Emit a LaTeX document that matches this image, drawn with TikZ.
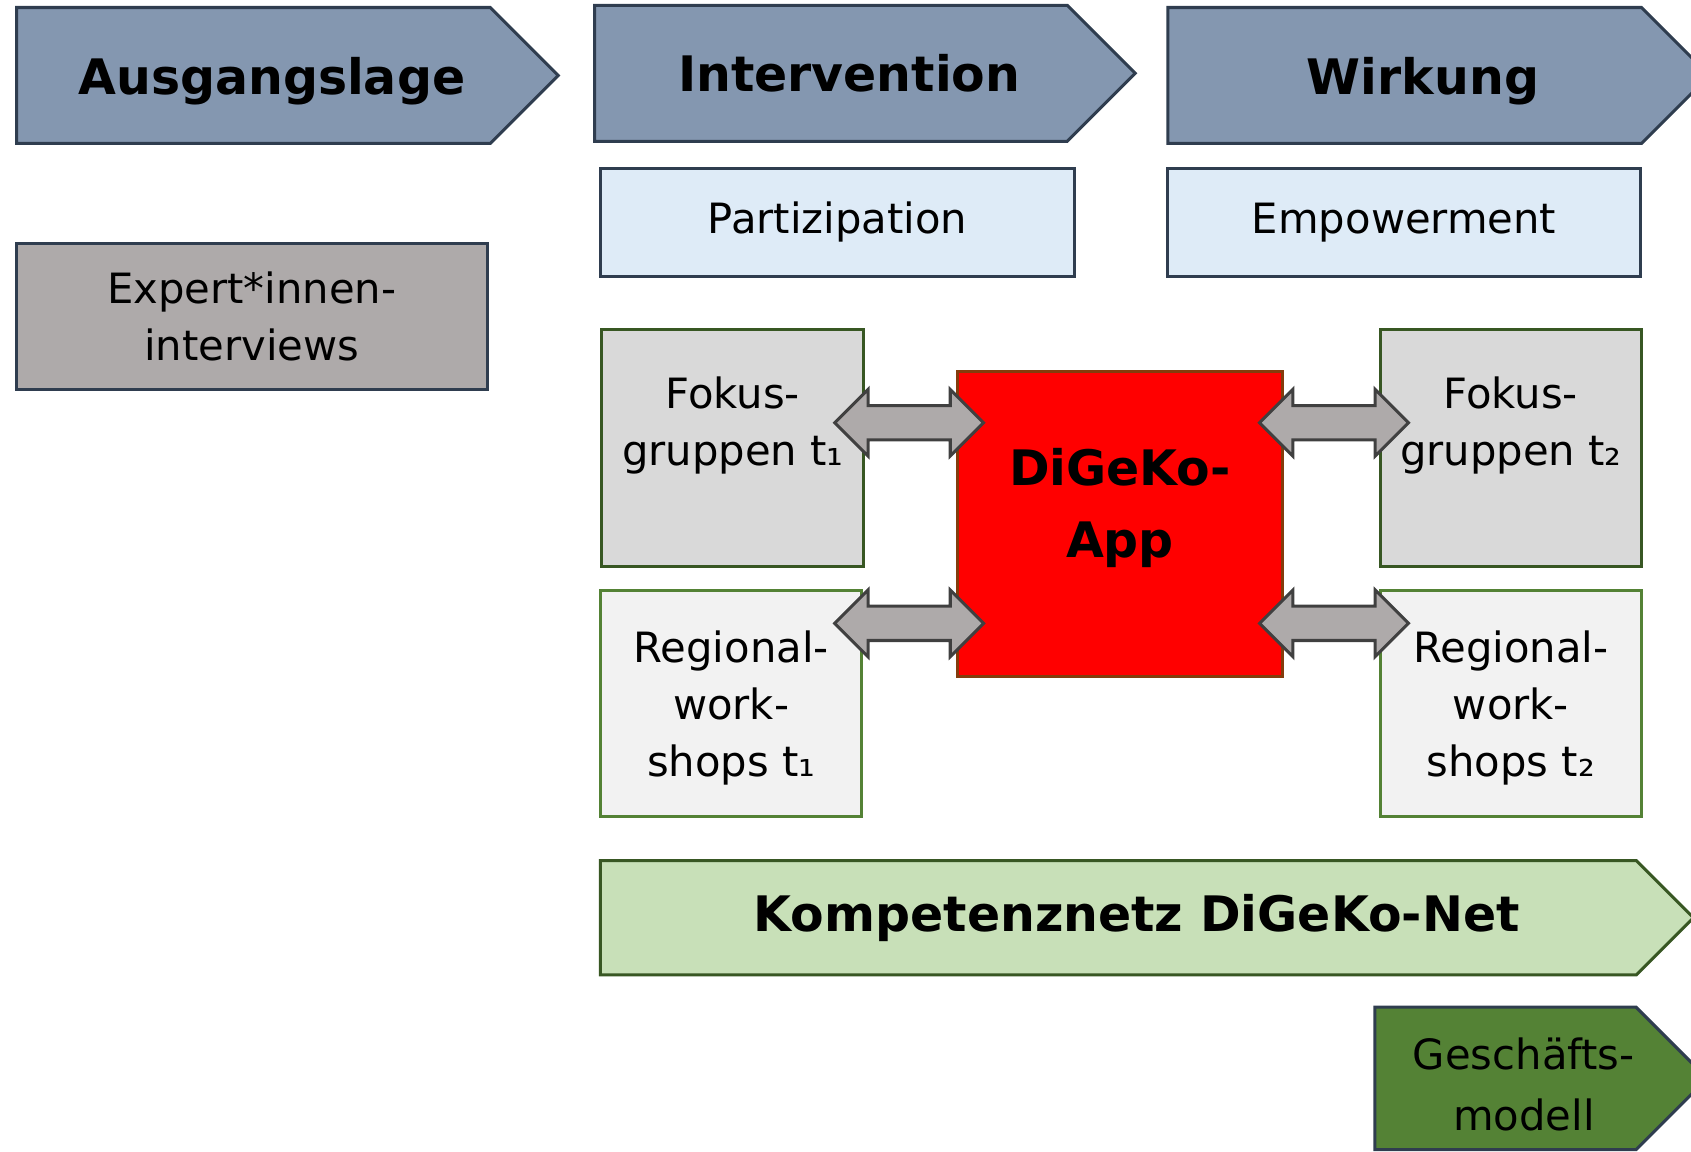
\documentclass[tikz,border=0pt]{standalone}
\usepackage{fontspec}
\setmainfont{DejaVu Sans}
\usepackage{xcolor}
\definecolor{phaseblue}{RGB}{132,151,176}
\definecolor{phaseline}{RGB}{47,61,79}
\definecolor{lightblue}{RGB}{222,235,247}
\definecolor{stonegray}{RGB}{174,170,170}
\definecolor{fokusgray}{RGB}{217,217,217}
\definecolor{workgray}{RGB}{242,242,242}
\definecolor{darkgreen}{RGB}{56,87,35}
\definecolor{midgreen}{RGB}{84,130,53}
\definecolor{palegreen}{RGB}{200,224,184}
\definecolor{appred}{RGB}{255,0,0}
\definecolor{appline}{RGB}{132,60,12}
\definecolor{arrowline}{RGB}{64,64,64}
\usepackage{tikz}
\usetikzlibrary{shapes,arrows,positioning,calc}

\begin{document}
\begin{tikzpicture}[x=0.01cm, y=-0.01cm, line width=0.8pt,
    every node/.style={font=\fontsize{11}{15}\selectfont, align=center},
    phase/.style={signal, signal to=east, draw=phaseline, fill=phaseblue, font=\fontsize{12.9}{19}\selectfont\bfseries, inner sep=0pt},
    box/.style={rectangle, draw, inner sep=0pt},
    link/.style={double arrow, draw=arrowline, fill=stonegray, minimum width=0.6cm, minimum height=1.38cm, double arrow head extend=0.15cm, text height=0pt, text depth=0pt, inner xsep=0pt, inner ysep=0.145cm}]
    \useasboundingbox (0,0) rectangle (1568,1068);
    \clip (0,0) rectangle (1568,1068);

    % phases
    \node[phase, minimum width=5.02cm, minimum height=1.26cm, text depth=0pt] (ausgang) at (235,70) {\hspace*{0.34cm}Ausgangslage};
    \node[phase, minimum width=5.01cm, minimum height=1.26cm] (interv) at (770.5,68) {\hspace*{0.34cm}Intervention};
    \node[phase, minimum width=5.02cm, minimum height=1.26cm, text depth=0pt] (wirkung) at (1302.5,70) {\hspace*{0.34cm}Wirkung};

    \node[box, draw=phaseline, fill=lightblue, minimum width=4.39cm, minimum height=1cm] (partiz) at (776.5,206) {Partizipation};
    \node[box, draw=phaseline, fill=lightblue, minimum width=4.38cm, minimum height=1cm] (empow) at (1302,206) {Empowerment};
    \node[box, draw=phaseline, fill=stonegray, minimum width=4.37cm, minimum height=1.35cm] (expert) at (233.5,293.5) {Expert*innen-\\interviews};

    % focus groups and workshops
    \node[box, draw=darkgreen, fill=fokusgray, minimum width=2.43cm, minimum height=2.19cm, text depth=0.5cm] (fokus1) at (679.5,415.5) {Fokus-\\gruppen t₁};
    \node[box, draw=midgreen, fill=workgray, minimum width=2.42cm, minimum height=2.09cm, text depth=0pt] (regio1) at (678,652.5) {Regional-\\work-\\shops t₁};
    \node[box, draw=darkgreen, fill=fokusgray, minimum width=2.42cm, minimum height=2.19cm, text depth=0.5cm] (fokus2) at (1401,415.5) {Fokus-\\gruppen t₂};
    \node[box, draw=midgreen, fill=workgray, minimum width=2.42cm, minimum height=2.09cm, text depth=0pt] (regio2) at (1401,652.5) {Regional-\\work-\\shops t₂};

    \node[box, draw=appline, fill=appred, minimum width=3.01cm, minimum height=2.82cm, font=\fontsize{12.9}{19}\selectfont\bfseries, text depth=0.4cm] (app) at (1038.5,486) {DiGeKo-\\App};

    % links to the app
    \node[link] (lfokus1) at (843,392) {};
    \node[link] (lregio1) at (843,578) {};
    \node[link] (lfokus2) at (1237,392) {};
    \node[link] (lregio2) at (1237,578) {};

    % network and business model
    \node[phase, draw=darkgreen, fill=palegreen, minimum width=10.13cm, minimum height=1.06cm] (netz) at (1037,851) {\hspace*{0.34cm}Kompetenznetz DiGeKo-Net};
    \node[phase, fill=midgreen, font=\fontsize{11}{16}\selectfont, minimum width=3.08cm, minimum height=1.32cm, text height=0.96cm, text depth=0pt] (modell) at (1396,1000) {\hspace*{0.34cm}Geschäfts-\\\hspace*{0.34cm}modell};
\end{tikzpicture}
\end{document}
